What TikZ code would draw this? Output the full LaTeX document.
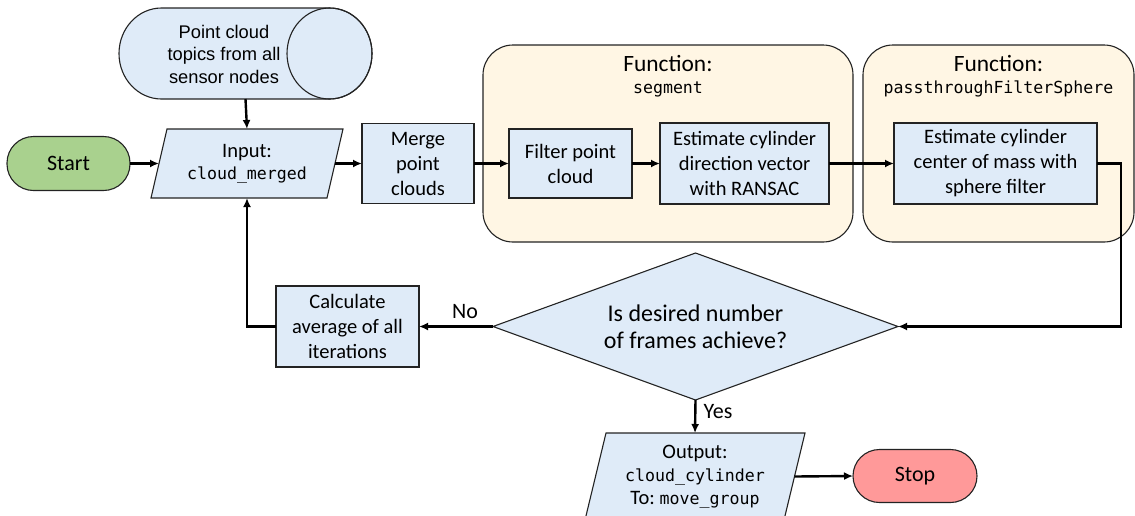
\documentclass[tikz,border=0pt]{standalone}
\usepackage{fontspec}
\setmainfont{Carlito}
\setmonofont{DejaVu Sans Mono}
\newfontfamily\arialfont{Liberation Sans}
\usetikzlibrary{arrows.meta,shapes.geometric}

\definecolor{boxblue}{RGB}{223,235,248}
\definecolor{cream}{RGB}{255,246,228}
\definecolor{startgreen}{RGB}{169,209,142}
\definecolor{stoppink}{RGB}{255,153,153}
\definecolor{edge}{RGB}{35,35,35}

\newcommand{\code}[1]{{\ttfamily\fontsize{16.6}{22}\selectfont #1}}

\begin{document}
\begin{tikzpicture}[x=1pt,y=-1pt,
  outline/.style={draw=edge, line width=1.1pt},
  box/.style={outline, fill=boxblue, inner sep=0pt, outer sep=0pt, align=center,
    font=\fontsize{20.5}{25}\selectfont},
  term/.style={outline, inner sep=0pt, outer sep=0pt, rounded corners=26.5pt,
    font=\fontsize{22}{26}\selectfont},
  func/.style={outline, fill=cream, rounded corners=30pt, inner sep=0pt, outer sep=0pt},
  iofill/.style={outline, fill=boxblue},
  iotext/.style={inner sep=0pt, outer sep=0pt, align=center},
  title/.style={anchor=base, inner sep=0pt, font=\fontsize{23.4}{28}\selectfont},
  lbl/.style={inner sep=0pt, font=\fontsize{22}{26}\selectfont},
  flow/.style={line width=2.4pt, -{Latex[length=9pt,width=8pt]}}
]
\clip (0,0) rectangle (1135,515);

% data source cylinder
\path[outline, fill=boxblue]
  (161.5,8) -- (329.5,8) arc[start angle=90, end angle=-90, x radius=42.5, y radius=-45.5]
  -- (161.5,99) arc[start angle=270, end angle=90, x radius=42.5, y radius=-45.5] -- cycle;
\draw[outline] (329.5,53.5) ellipse[x radius=42.5, y radius=45.5];
\node[inner sep=0pt, outer sep=0pt, minimum width=253pt, minimum height=91pt] (src) at (245.5,53.5) {};
\node[align=center, inner sep=0pt, font=\arialfont\fontsize{18.3}{22.5}\selectfont] (srctext) at (224,54)
  {Point cloud\\topics from all\\sensor nodes};

% terminals
\node[term, fill=startgreen, minimum width=123pt, minimum height=54pt] (start) at (68.5,163.5) {Start};
\node[term, fill=stoppink, minimum width=124pt, minimum height=53pt] (stop) at (915,476) {Stop};

% input parallelogram
\path[iofill] (167,129) -- (343,129) -- (327,198) -- (151,198) -- cycle;
\node[iotext, minimum width=176pt, minimum height=69pt, font=\fontsize{20.5}{22}\selectfont] (in) at (247,163.5)
  {Input:\\\code{cloud\_merged}};

% merge step
\node[box, minimum width=112pt, minimum height=80pt] (merge) at (418,163.5) {Merge\\point\\clouds};

% function containers
\node[func, minimum width=370pt, minimum height=197pt] (seg) at (668,143.5) {};
\node[func, minimum width=271pt, minimum height=197pt] (pass) at (998.5,143.5) {};
\node[title] (segt) at (668,71) {Function:};
\node[anchor=base, inner sep=0pt] (segn) at (668,93) {\code{segment}};
\node[title] (passt) at (998.5,71) {Function:};
\node[anchor=base, inner sep=0pt] (passn) at (998.5,93) {\code{passthroughFilterSphere}};

% processing steps
\node[box, minimum width=123pt, minimum height=69pt] (filter) at (570.5,163.5) {Filter point\\cloud};
\node[box, minimum width=169pt, minimum height=81pt] (dir) at (744.5,163.5)
  {Estimate cylinder\\direction vector\\with RANSAC};
\node[box, minimum width=203pt, minimum height=81pt] (com) at (995.5,163.5)
  {Estimate cylinder\\center of mass with\\sphere filter};
\node[box, minimum width=143pt, minimum height=81pt] (calc) at (347.5,326.5)
  {Calculate\\average of all\\iterations};

% decision
\node[diamond, outline, fill=boxblue, aspect=2.755, minimum width=405pt, minimum height=147pt,
  inner sep=0pt, outer sep=0pt, align=center, font=\fontsize{24}{27}\selectfont] (dec) at (695.5,326.5)
  {Is desired number\\of frames achieve?};

% output parallelogram
\path[iofill] (606,433) -- (805,433) -- (784,520) -- (585,520) -- cycle;
\node[iotext, minimum width=199pt, minimum height=87pt, font=\fontsize{20.5}{23}\selectfont] (out) at (695,476.5)
  {Output:\\\code{cloud\_cylinder}\\To:~\code{move\_group}};

% connectors
\draw[flow] (src.south) -- (in.north);
\draw[flow] (start.east) -- (in.west);
\draw[flow] (in.east) -- (merge.west);
\draw[flow] (merge.east) -- (filter.west);
\draw[flow] (filter.east) -- (dir.west);
\draw[flow] (dir.east) -- (com.west);
\draw[flow] (com.east) -- ++(24,0) |- (dec.east);
\draw[flow] (dec.west) -- (calc.east);
\draw[flow] (calc.west) -| (in.south);
\draw[flow] (dec.south) -- (out.north);
\draw[flow] (out.east) -- (stop.west);

% branch labels
\node[lbl] (no) at (465,312) {No};
\node[lbl] (yes) at (718,412) {Yes};
\end{tikzpicture}
\end{document}
